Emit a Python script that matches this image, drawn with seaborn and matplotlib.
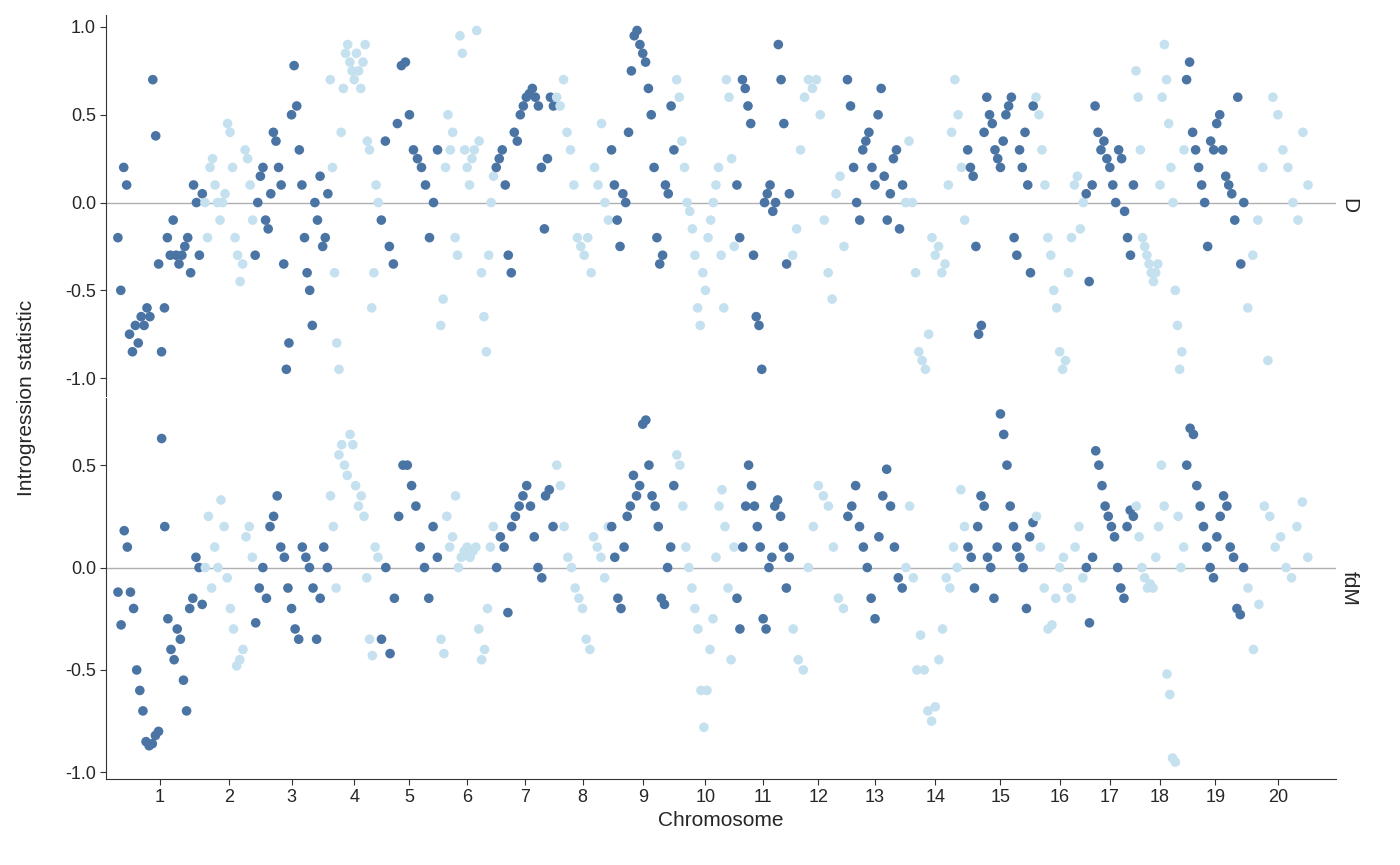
import numpy as np
import pandas as pd
import matplotlib.pyplot as plt
import seaborn as sns

sns.set_style('white')
plt.rcParams['font.family'] = ['Liberation Sans', 'DejaVu Sans']

# chromosome lengths (relative units)
chrom_len = [87, 50, 75, 50, 60, 55, 60, 55, 65, 60, 55, 55, 58, 62, 68, 50, 50, 50, 60, 65]

# D values per chromosome, ordered by position
d_vals = [
    [-0.2, -0.5, 0.2, 0.1, -0.75, -0.85, -0.7, -0.8, -0.65, -0.7, -0.6, -0.65, 0.7, 0.38, -0.35, -0.85, -0.6, -0.2, -0.3, -0.1, -0.3, -0.35, -0.3, -0.25, -0.2, -0.4, 0.1, 0.0, -0.3, 0.05],
    [0.0, -0.2, 0.2, 0.25, 0.1, 0.0, -0.1, 0.0, 0.05, 0.45, 0.4, 0.2, -0.2, -0.3, -0.45, -0.35, 0.3, 0.25, 0.1, -0.1],
    [-0.3, 0.0, 0.15, 0.2, -0.1, -0.15, 0.05, 0.4, 0.35, 0.2, 0.1, -0.35, -0.95, -0.8, 0.5, 0.78, 0.55, 0.3, 0.1, -0.2, -0.4, -0.5, -0.7, 0.0, -0.1, 0.15, -0.25, -0.2, 0.05],
    [0.7, 0.2, -0.4, -0.8, -0.95, 0.4, 0.65, 0.85, 0.9, 0.8, 0.75, 0.7, 0.85, 0.75, 0.65, 0.8, 0.9, 0.35, 0.3, -0.6, -0.4, 0.1, 0.0],
    [-0.1, 0.35, -0.25, -0.35, 0.45, 0.78, 0.8, 0.5, 0.3, 0.25, 0.2, 0.1, -0.2, 0.0, 0.3],
    [-0.7, -0.55, 0.2, 0.5, 0.3, 0.4, -0.2, -0.3, 0.95, 0.85, 0.3, 0.2, 0.1, 0.25, 0.3, 0.98, 0.35, -0.4, -0.65, -0.85, -0.3, 0.0, 0.15],
    [0.2, 0.25, 0.3, 0.1, -0.3, -0.4, 0.4, 0.35, 0.5, 0.55, 0.6, 0.62, 0.65, 0.6, 0.55, 0.2, -0.15, 0.25, 0.6, 0.55],
    [0.6, 0.55, 0.7, 0.4, 0.3, 0.1, -0.2, -0.25, -0.3, -0.2, -0.4, 0.2, 0.1, 0.45, 0.0, -0.1],
    [0.3, 0.1, -0.1, -0.25, 0.05, 0.0, 0.4, 0.75, 0.95, 0.98, 0.9, 0.85, 0.8, 0.65, 0.5, 0.2, -0.2, -0.35, -0.3, 0.1, 0.05, 0.55, 0.3],
    [0.7, 0.6, 0.35, 0.2, 0.0, -0.05, -0.15, -0.3, -0.6, -0.7, -0.4, -0.5, -0.2, -0.1, 0.0, 0.1, 0.2, -0.3, -0.6, 0.7, 0.6, 0.25, -0.25],
    [0.1, -0.2, 0.7, 0.65, 0.55, 0.45, -0.3, -0.65, -0.7, -0.95, 0.0, 0.05, 0.1, -0.05, 0.0, 0.9, 0.7, 0.45, -0.35, 0.05],
    [-0.3, -0.15, 0.3, 0.6, 0.7, 0.65, 0.7, 0.5, -0.1, -0.4, -0.55, 0.05, 0.15, -0.25],
    [0.7, 0.55, 0.2, 0.0, -0.1, 0.3, 0.35, 0.4, 0.2, 0.1, 0.5, 0.65, 0.15, -0.1, 0.05, 0.25, 0.3, -0.15, 0.1],
    [0.0, 0.35, 0.0, -0.4, -0.85, -0.9, -0.95, -0.75, -0.2, -0.3, -0.25, -0.4, -0.35, 0.1, 0.4, 0.7, 0.5, 0.2, -0.1],
    [0.3, 0.2, 0.15, -0.25, -0.75, -0.7, 0.4, 0.6, 0.5, 0.45, 0.3, 0.25, 0.2, 0.35, 0.5, 0.55, 0.6, -0.2, -0.3, 0.3, 0.2, 0.4, 0.1, -0.4, 0.55],
    [0.6, 0.5, 0.3, 0.1, -0.2, -0.3, -0.5, -0.6, -0.85, -0.95, -0.9, -0.4, -0.2, 0.1, 0.15, -0.15, 0.0],
    [0.05, -0.45, 0.1, 0.55, 0.4, 0.3, 0.35, 0.25, 0.2, 0.1, 0.0, 0.3, 0.25, -0.05, -0.2, -0.3, 0.1],
    [0.75, 0.6, 0.3, -0.2, -0.25, -0.3, -0.35, -0.4, -0.45, -0.4, -0.35, 0.1, 0.6, 0.9, 0.7, 0.45, 0.2, 0.0, -0.5, -0.7, -0.95, -0.85, 0.3],
    [0.7, 0.8, 0.4, 0.3, 0.2, 0.1, 0.0, -0.25, 0.35, 0.3, 0.45, 0.5, 0.3, 0.15, 0.1, 0.05, -0.1, 0.6, -0.35, 0.0],
    [-0.6, -0.3, -0.1, 0.2, -0.9, 0.6, 0.5, 0.3, 0.2, 0.0, -0.1, 0.4, 0.1],
]

# fdM values per chromosome, ordered by position
fdm_vals = [
    [-0.12, -0.28, 0.18, 0.1, -0.12, -0.2, -0.5, -0.6, -0.7, -0.85, -0.87, -0.86, -0.82, -0.8, 0.63, 0.2, -0.25, -0.4, -0.45, -0.3, -0.35, -0.55, -0.7, -0.2, -0.15, 0.05, 0.0, -0.18],
    [0.0, 0.25, -0.1, 0.1, 0.0, 0.33, 0.2, -0.05, -0.2, -0.3, -0.48, -0.45, -0.4, 0.15, 0.2, 0.05],
    [-0.27, -0.1, 0.0, -0.15, 0.2, 0.25, 0.35, 0.1, 0.05, -0.1, -0.2, -0.3, -0.35, 0.1, 0.05, 0.0, -0.1, -0.35, -0.15, 0.1, 0.0],
    [0.35, 0.2, -0.1, 0.55, 0.6, 0.5, 0.45, 0.65, 0.6, 0.4, 0.3, 0.35, 0.25, -0.05, -0.35, -0.43, 0.1, 0.05],
    [-0.35, 0.0, -0.42, -0.15, 0.25, 0.5, 0.5, 0.4, 0.3, 0.1, 0.0, -0.15, 0.2, 0.05],
    [-0.35, -0.42, 0.25, 0.1, 0.15, 0.35, 0.0, 0.05, 0.08, 0.1, 0.05, 0.08, 0.1, -0.3, -0.45, -0.4, -0.2, 0.1, 0.2],
    [0.0, 0.15, 0.1, -0.22, 0.2, 0.25, 0.3, 0.35, 0.4, 0.3, 0.15, 0.0, -0.05, 0.35, 0.38, 0.2],
    [0.5, 0.4, 0.2, 0.05, 0.0, -0.1, -0.15, -0.2, -0.35, -0.4, 0.15, 0.1, 0.05, -0.05, 0.2],
    [0.2, 0.05, -0.15, -0.2, 0.1, 0.25, 0.3, 0.45, 0.35, 0.4, 0.7, 0.72, 0.5, 0.35, 0.3, 0.2, -0.15, -0.18, 0.0, 0.1, 0.4],
    [0.55, 0.5, 0.3, 0.1, 0.0, -0.1, -0.2, -0.3, -0.6, -0.78, -0.6, -0.4, -0.25, 0.05, 0.3, 0.38, 0.2, -0.1, -0.45, 0.1],
    [-0.15, -0.3, 0.1, 0.3, 0.5, 0.4, 0.3, 0.2, 0.1, -0.25, -0.3, 0.0, 0.05, 0.3, 0.33, 0.25, 0.1, -0.1, 0.05],
    [-0.3, -0.45, -0.5, 0.0, 0.2, 0.4, 0.35, 0.3, 0.1, -0.15, -0.2],
    [0.25, 0.3, 0.4, 0.2, 0.1, 0.0, -0.15, -0.25, 0.15, 0.35, 0.48, 0.3, 0.1, -0.05, -0.1],
    [0.0, 0.3, -0.05, -0.5, -0.33, -0.5, -0.7, -0.75, -0.68, -0.45, -0.3, -0.05, -0.1, 0.1, 0.0, 0.38, 0.2],
    [0.1, 0.05, -0.1, 0.2, 0.35, 0.3, 0.05, 0.0, -0.15, 0.1, 0.75, 0.65, 0.5, 0.3, 0.2, 0.1, 0.05, 0.0, -0.2, 0.15, 0.22],
    [0.25, 0.1, -0.1, -0.3, -0.28, -0.15, 0.0, 0.05, -0.1, -0.15, 0.1, 0.2, -0.05],
    [0.0, -0.27, 0.05, 0.57, 0.5, 0.4, 0.3, 0.25, 0.2, 0.15, 0.0, -0.1, -0.15, 0.2, 0.28, 0.25],
    [0.3, 0.15, 0.0, -0.05, -0.1, -0.08, -0.1, 0.05, 0.2, 0.5, 0.3, -0.52, -0.62, -0.93, -0.95, 0.25, 0.0, 0.1],
    [0.5, 0.68, 0.65, 0.4, 0.3, 0.2, 0.1, 0.0, -0.05, 0.15, 0.25, 0.35, 0.3, 0.1, 0.05, -0.2, -0.23, 0.0],
    [-0.1, -0.4, -0.18, 0.3, 0.25, 0.1, 0.15, 0.0, -0.05, 0.2, 0.32, 0.05],
]

starts = np.concatenate([[0], np.cumsum(chrom_len)[:-1]])
mids = starts + np.array(chrom_len) / 2

rows = []
for stat, vals in [('D', d_vals), ('fdM', fdm_vals)]:
    for i, v in enumerate(vals):
        n = len(v)
        pos = starts[i] + chrom_len[i] * (np.arange(n) + 0.5) / n
        for p, y in zip(pos, v):
            rows.append({'stat': stat, 'chrom': i + 1, 'pos': p, 'value': y,
                         'grp': 'odd' if (i + 1) % 2 else 'even'})
df = pd.DataFrame(rows)

pal = {'odd': '#4a74a4', 'even': '#c5e1f0'}

fig, axes = plt.subplots(2, 1, figsize=(14, 8.65), dpi=100, sharex=True)
fig.subplots_adjust(left=0.076, right=0.954, top=0.983, bottom=0.1, hspace=0.005)

for ax, stat, ylim, yt in [(axes[0], 'D', (-1.1, 1.07), [-1, -0.5, 0, 0.5, 1]),
                            (axes[1], 'fdM', (-1.03, 0.83), [-1, -0.5, 0, 0.5])]:
    ax.axhline(0, color='#b0b0b0', lw=1, zorder=0)
    sns.scatterplot(data=df[df.stat == stat], x='pos', y='value', hue='grp',
                    palette=pal, s=48, linewidth=0, alpha=1, legend=False, ax=ax)
    ax.set_ylim(*ylim)
    ax.set_yticks(yt)
    ax.set_yticklabels([f'{t:.1f}' for t in yt], fontsize=13)
    ax.set_ylabel('')
    ax.text(1.003, 0.5, stat, transform=ax.transAxes, rotation=-90,
            va='center', ha='left', fontsize=15)
    for s in ['top', 'right']:
        ax.spines[s].set_visible(False)
    ax.spines['left'].set_color('#333333')
    ax.tick_params(axis='y', left=True, length=4, color='#333333')

axes[0].spines['bottom'].set_visible(False)
axes[0].tick_params(axis='x', bottom=False)
axes[1].spines['bottom'].set_color('#333333')
axes[1].set_xlim(-10, sum(chrom_len) + 25)
axes[1].set_xticks(mids)
axes[1].set_xticklabels([str(i) for i in range(1, 21)], fontsize=13)
axes[1].tick_params(axis='x', bottom=True, length=4, color='#333333')
axes[1].set_xlabel('Chromosome', fontsize=15)
fig.text(0.012, 0.54, 'Introgression statistic', rotation=90, va='center', fontsize=15)

plt.savefig('out.png')
